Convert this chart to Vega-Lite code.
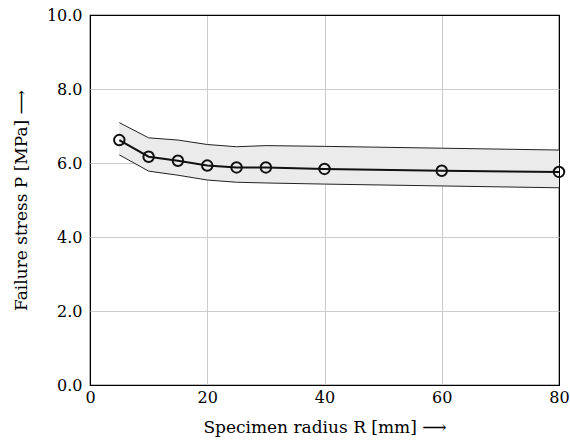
{
  "$schema": "https://vega.github.io/schema/vega-lite/v6.json",
  "width": 469,
  "height": 370,
  "autosize": {"type": "none"},
  "padding": {"left": 90, "top": 15, "right": 11, "bottom": 58},
  "background": "white",
  "config": {
    "view": {"stroke": "black", "strokeWidth": 1.2},
    "font": "DejaVu Serif",
    "axis": {
      "labelFont": "DejaVu Serif",
      "titleFont": "DejaVu Serif",
      "labelFontSize": 16,
      "titleFontSize": 17,
      "titleFontWeight": "normal",
      "labelColor": "black",
      "titleColor": "black",
      "labelFlush": false,
      "labelOverlap": false,
      "gridColor": {"condition": {"test": "datum.value == 0 || datum.value == 10 || datum.value == 80", "value": "black"}, "value": "#cccccc"},
      "gridWidth": 1,
      "domain": false,
      "ticks": false
    }
  },
  "data": {
    "values": [
      {"R": 5, "P": 6.62, "lo": 6.22, "hi": 7.09},
      {"R": 10, "P": 6.17, "lo": 5.78, "hi": 6.68},
      {"R": 15, "P": 6.06, "lo": 5.67, "hi": 6.62},
      {"R": 20, "P": 5.93, "lo": 5.54, "hi": 6.5},
      {"R": 25, "P": 5.88, "lo": 5.48, "hi": 6.44},
      {"R": 30, "P": 5.88, "lo": 5.46, "hi": 6.47},
      {"R": 40, "P": 5.84, "lo": 5.43, "hi": 6.45},
      {"R": 60, "P": 5.79, "lo": 5.38, "hi": 6.4},
      {"R": 80, "P": 5.76, "lo": 5.33, "hi": 6.35}
    ]
  },
  "encoding": {
    "x": {
      "field": "R",
      "type": "quantitative",
      "scale": {"domain": [0, 80], "nice": false},
      "axis": {"values": [0, 20, 40, 60, 80], "labelPadding": 4, "title": "Specimen radius R [mm] ⟶", "titlePadding": 14, "grid": true}
    }
  },
  "layer": [
    {
      "mark": {"type": "area", "color": "#ebebeb", "opacity": 1},
      "encoding": {
        "y": {
          "field": "lo",
          "type": "quantitative",
          "scale": {"domain": [0, 10], "nice": false},
          "axis": {"values": [0, 2, 4, 6, 8, 10], "format": ".1f", "labelPadding": 8, "title": "Failure stress P [MPa] ⟶", "titlePadding": 16, "grid": true}
        },
        "y2": {"field": "hi"}
      }
    },
    {
      "mark": {"type": "line", "color": "#222222", "strokeWidth": 1},
      "encoding": {"y": {"field": "lo", "type": "quantitative"}}
    },
    {
      "mark": {"type": "line", "color": "#222222", "strokeWidth": 1},
      "encoding": {"y": {"field": "hi", "type": "quantitative"}}
    },
    {
      "mark": {"type": "line", "color": "#111111", "strokeWidth": 2},
      "encoding": {"y": {"field": "P", "type": "quantitative"}}
    },
    {
      "mark": {"type": "point", "shape": "circle", "filled": false, "color": "#111111", "strokeWidth": 2, "size": 110, "opacity": 1},
      "encoding": {"y": {"field": "P", "type": "quantitative"}}
    }
  ]
}
